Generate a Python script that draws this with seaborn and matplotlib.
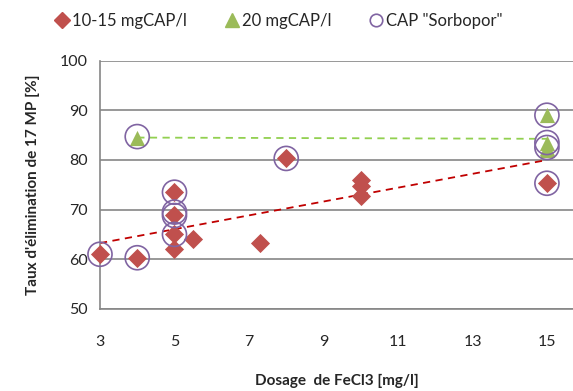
import numpy as np
import seaborn as sns
import matplotlib.pyplot as plt
from matplotlib.lines import Line2D

# données
x_10_15 = [3, 4, 5, 5, 5, 5, 5.5, 7.3, 8, 10, 10, 10, 15]
y_10_15 = [61, 60.3, 62, 65, 69, 73.5, 64, 63.3, 80.3, 76, 74.8, 72.8, 75.3]

x_20 = [4, 15, 15, 15, 15]
y_20 = [84.5, 89, 83.5, 82.5, 82]

x_sorbopor = [3, 4, 4, 5, 5, 5, 5, 8, 15, 15, 15, 15]
y_sorbopor = [61, 60.3, 84.7, 73.5, 69.5, 68.8, 65, 80.3, 89, 83.5, 82.5, 75.3]

xticks = [3, 5, 7, 9, 11, 13, 15]
yticks = [50, 60, 70, 80, 90, 100]

sns.set_style("white")
plt.rcParams['font.family'] = ['Lato', 'DejaVu Sans']

red = "#C0504D"
green = "#9BBB59"
purple = "#8064A2"
grid = "#868686"

fig = plt.figure(figsize=(5.73, 3.91), dpi=100)
ax = fig.add_axes([0.1745, 0.21, 0.8255, 0.635])

# courbes de tendance
sns.regplot(x=x_10_15, y=y_10_15, scatter=False, ci=None, truncate=True, ax=ax,
            line_kws=dict(color="#C00000", lw=1.3, ls=(0, (4, 3)), zorder=2))
sns.regplot(x=x_20, y=y_20, scatter=False, ci=None, truncate=True, ax=ax,
            line_kws=dict(color="#92D050", lw=1.3, ls=(0, (4, 3)), zorder=2))

sns.scatterplot(x=x_10_15, y=y_10_15, marker="D", s=95, color=red, edgecolor=red,
                linewidth=0, ax=ax, zorder=3, clip_on=False)
sns.scatterplot(x=x_20, y=y_20, marker="^", s=120, color=green, edgecolor=green,
                linewidth=0, ax=ax, zorder=4, clip_on=False)
ax.scatter(x_sorbopor, y_sorbopor, marker="o", s=300, facecolors="none",
           edgecolors=purple, linewidths=1.2, zorder=5, clip_on=False)

ax.set_xlim(3, 15.7)
ax.set_ylim(50, 100)
ax.set_xticks(xticks)
ax.set_yticks(yticks)
ax.yaxis.grid(True, color=grid, lw=1.2)
ax.set_axisbelow(True)
for s in ["top", "right"]:
    ax.spines[s].set_visible(False)
for s in ["left", "bottom"]:
    ax.spines[s].set_color(grid)
    ax.spines[s].set_linewidth(1.2)
ax.tick_params(axis="both", direction="out", length=5, width=1.2, color=grid,
               labelsize=11.5, pad=4)
ax.tick_params(axis="x", pad=14)

ax.set_xlabel("Dosage  de FeCl3 [mg/l]", fontsize=11, fontweight="bold", labelpad=18)
ax.set_ylabel("Taux d'élimination de 17 MP [%]", fontsize=11, fontweight="bold", labelpad=14)

handles = [
    Line2D([], [], marker="D", ls="", color=red, markersize=8),
    Line2D([], [], marker="^", ls="", color=green, markersize=10),
    Line2D([], [], marker="o", ls="", markerfacecolor="none", markeredgecolor=purple,
           markersize=9, markeredgewidth=1.2),
]
labels = ["10-15 mgCAP/l", "20 mgCAP/l", 'CAP "Sorbopor"']
fig.legend(handles, labels, loc="center", bbox_to_anchor=(0.485, 0.947), ncol=3,
           frameon=False, fontsize=12, handletextpad=0.1, columnspacing=2.2,
           handlelength=1.0)

fig.savefig("out.png", dpi=100)
